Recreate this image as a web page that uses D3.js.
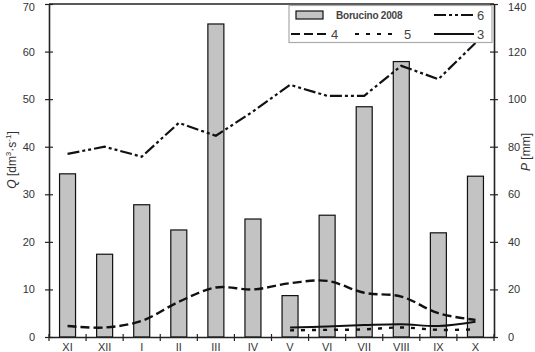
<!DOCTYPE html>
<html><head><meta charset="utf-8">
<script src="https://cdn.jsdelivr.net/npm/d3@7"></script>
<style>body{margin:0;background:#fff}svg{display:block;font-family:"Liberation Sans",Arial,sans-serif}</style>
</head><body><svg id="c" width="535" height="352"></svg>
<script>
const months = ["XI","XII","I","II","III","IV","V","VI","VII","VIII","IX","X"];
const bars = [34.3,17.4,27.8,22.5,65.8,24.8,8.7,25.6,48.4,57.9,21.9,33.8];
const line6 = [38.5,40.0,37.9,45.0,42.3,47.4,53.0,50.7,50.7,57.0,54.2,61.8];
const line4 = [2.3,2.0,3.4,7.4,10.4,10.0,11.3,11.8,9.3,8.5,5.0,3.6];
const line5 = [null,null,null,null,null,null,1.4,1.5,1.6,2.0,1.5,1.6];
const line3 = [null,null,null,null,null,null,2.0,2.2,2.5,2.7,2.3,3.2];
const leftTicks = [0,10,20,30,40,50,60,70];
const rightTicks = [0,20,40,60,80,100,120,140];

const svg = d3.select("#c");
const L=49,R=494,T=4,B=337;
const x = d3.scaleBand().domain(months).range([L,R]);
const y = d3.scaleLinear().domain([0,70]).range([B,T]);
const y2 = d3.scaleLinear().domain([0,140]).range([B,T]);
const col="#222", tcol="#333";

// bars
svg.append("g").selectAll("rect").data(bars).join("rect")
  .attr("x",(d,i)=>x(months[i])+x.bandwidth()/2-8).attr("width",16)
  .attr("y",d=>y(d)).attr("height",d=>B-y(d))
  .attr("fill","#c3c3c3").attr("stroke","#111").attr("stroke-width",1.2);

const cx = (d,i)=>x(months[i])+x.bandwidth()/2;
function drawLine(data, dash, curve, w){
  const g = d3.line().defined(d=>d!=null).x(cx).y(d=>y(d)).curve(curve);
  svg.append("path").attr("d",g(data)).attr("fill","none").attr("stroke","#111")
    .attr("stroke-width",w).attr("stroke-dasharray",dash);
}
drawLine(line6,"12,3,3,3,3,3",d3.curveLinear,2.2);
drawLine(line4,"9,4",d3.curveCatmullRom,2.4);
drawLine(line5,"4,7",d3.curveCatmullRom,2.4);
drawLine(line3,null,d3.curveCatmullRom,2);

// frame
svg.append("line").attr("x1",L).attr("x2",R).attr("y1",T).attr("y2",T).attr("stroke",col).attr("stroke-width",1.5);
// axes
const ga = svg.append("g").attr("transform",`translate(${L},0)`)
  .call(d3.axisLeft(y).tickValues(leftTicks).tickSizeInner(4).tickSizeOuter(0).tickPadding(10));
const gr = svg.append("g").attr("transform",`translate(${R},0)`)
  .call(d3.axisRight(y2).tickValues(rightTicks).tickSizeInner(4).tickSizeOuter(0).tickPadding(10));
const gx = svg.append("g").attr("transform",`translate(0,${B})`)
  .call(d3.axisBottom(x).tickSizeInner(0).tickSizeOuter(0).tickPadding(6));
const edges = months.map(m=>x(m)).concat([R]);
svg.append("g").selectAll("line").data(edges).join("line")
  .attr("x1",d=>d).attr("x2",d=>d).attr("y1",B-3).attr("y2",B+4).attr("stroke",col).attr("stroke-width",1.2);
[ga,gr,gx].forEach(g=>{
  g.select(".domain").attr("stroke",col).attr("stroke-width",1.6);
  g.selectAll(".tick line").attr("stroke",col).attr("stroke-width",1.2);
  g.selectAll(".tick text").attr("fill",tcol).attr("font-size",11).attr("font-family","Liberation Sans, Arial, sans-serif");
});
ga.selectAll(".tick line").attr("x1",4);
gr.selectAll(".tick line").attr("x1",-4);
// keep the top labels inside the picture
ga.selectAll(".tick text").filter(d=>d===70).attr("dy","0.32em").attr("y",3);
gr.selectAll(".tick text").filter(d=>d===140).attr("y",3);

// axis titles
const lt = svg.append("text").attr("transform","translate(16,160) rotate(-90)").attr("text-anchor","middle")
  .attr("font-size",12).attr("fill",tcol);
lt.append("tspan").attr("font-style","italic").text("Q");
lt.append("tspan").text(" [dm");
lt.append("tspan").attr("font-size",8).attr("dy",-5).text("3");
lt.append("tspan").attr("dy",5).text("·s");
lt.append("tspan").attr("font-size",8).attr("dy",-5).text("-1");
lt.append("tspan").attr("dy",5).text("]");
const rt = svg.append("text").attr("transform","translate(530,152) rotate(-90)").attr("text-anchor","middle")
  .attr("font-size",12).attr("fill",tcol);
rt.append("tspan").attr("font-style","italic").text("P");
rt.append("tspan").text(" [mm]");

// legend
const lg = svg.append("g");
lg.append("rect").attr("x",289).attr("y",5.5).attr("width",203).attr("height",37)
  .attr("fill","#fff").attr("stroke","#aaa").attr("stroke-width",1.2);
lg.append("rect").attr("x",296).attr("y",11).attr("width",27).attr("height",8)
  .attr("fill","#c3c3c3").attr("stroke","#111").attr("stroke-width",1.2);
lg.append("text").attr("x",336).attr("y",19).attr("font-size",10).attr("font-weight","bold")
  .attr("letter-spacing","-0.2").attr("fill","#444").text("Borucino 2008");
const items = [
  {x1:434,x2:474,y:15,dash:"12,3,3,3,3,3",lab:"6",lx:477},
  {x1:291,x2:328,y:34,dash:"9,4",lab:"4",lx:331},
  {x1:355,x2:395,y:34,dash:"4,7",lab:"5",lx:404},
  {x1:434,x2:474,y:34,dash:null,lab:"3",lx:477}
];
items.forEach(it=>{
  lg.append("line").attr("x1",it.x1).attr("x2",it.x2).attr("y1",it.y).attr("y2",it.y)
    .attr("stroke","#111").attr("stroke-width",2.2).attr("stroke-dasharray",it.dash);
  lg.append("text").attr("x",it.lx).attr("y",it.y+5).attr("font-size",13).attr("fill","#444").text(it.lab);
});
</script></body></html>
